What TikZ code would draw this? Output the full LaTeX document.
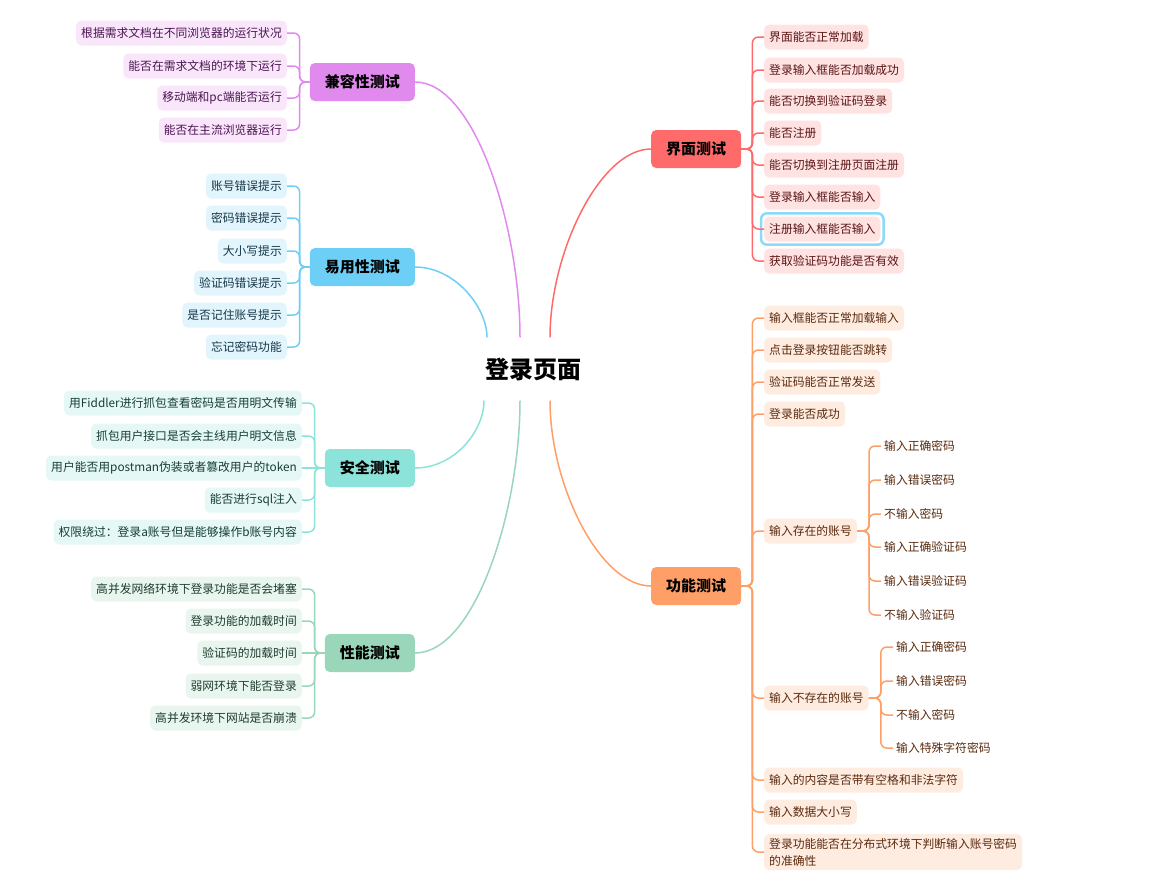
\documentclass[tikz,border=0pt]{standalone}
\usepackage{fontspec}
\setmainfont{Noto Sans CJK SC}
\definecolor{jrM}{HTML}{E18AEE}
\definecolor{jrL}{HTML}{FAE6FB}
\definecolor{jrT}{HTML}{4B1452}
\definecolor{yyM}{HTML}{6ECFF6}
\definecolor{yyL}{HTML}{E2F5FD}
\definecolor{yyT}{HTML}{153747}
\definecolor{aqM}{HTML}{8BE3D9}
\definecolor{aqL}{HTML}{E5F8F5}
\definecolor{aqT}{HTML}{163D38}
\definecolor{xnM}{HTML}{99D6BA}
\definecolor{xnL}{HTML}{E9F6EF}
\definecolor{xnT}{HTML}{1E3D2E}
\definecolor{jmM}{HTML}{FF6B6B}
\definecolor{jmL}{HTML}{FFE3E3}
\definecolor{jmT}{HTML}{5A1414}
\definecolor{gnM}{HTML}{FF9F68}
\definecolor{gnL}{HTML}{FFECE1}
\definecolor{gnT}{HTML}{5A2A0E}
\definecolor{hilite}{HTML}{8ED8FA}
\tikzset{
  leaf/.style={rounded corners=5pt,minimum height=25pt,inner xsep=5pt,inner ysep=2pt,
    font=\fontsize{11.8}{17}\selectfont},
  topic/.style={rounded corners=5pt,minimum height=38pt,inner xsep=15pt,
    font=\fontsize{15}{18}\selectfont\bfseries},
  sub/.style={inner sep=3pt,font=\fontsize{11.8}{14}\selectfont,text=gnT},
  link/.style={line width=1.5pt,rounded corners=6pt},
  jrleaf/.style={leaf,fill=jrL,text=jrT,anchor=east},
  yyleaf/.style={leaf,fill=yyL,text=yyT,anchor=east},
  aqleaf/.style={leaf,fill=aqL,text=aqT,anchor=east},
  xnleaf/.style={leaf,fill=xnL,text=xnT,anchor=east},
  jmleaf/.style={leaf,fill=jmL,text=jmT,anchor=west},
  gnleaf/.style={leaf,fill=gnL,text=gnT,anchor=west}
}
\begin{document}
\begin{tikzpicture}[x=1pt,y=-1pt]
      \useasboundingbox (0,0) rectangle (1150,886);
      \node[inner xsep=0pt,inner ysep=20pt,font=\fontsize{24}{28}\selectfont\bfseries] (root) at (533,369) {登录页面};

      \node[topic,fill=jrM,anchor=east] (jr) at (415,82) {兼容性测试};
      \node[topic,fill=yyM,anchor=east] (yy) at (415,267) {易用性测试};
      \node[topic,fill=aqM,anchor=east] (aq) at (415,468) {安全测试};
      \node[topic,fill=xnM,anchor=east] (xn) at (415,653) {性能测试};
      \node[topic,fill=jmM,anchor=west] (jm) at (651,149) {界面测试};
      \node[topic,fill=gnM,anchor=west] (gn) at (651,586) {功能测试};

      \draw[link,jrM] ([xshift=-13pt]root.north) .. controls +(0,-110) and +(60,0) .. (jr.east);
      \draw[link,yyM] ([xshift=-46pt]root.north) .. controls +(0,-30) and +(40,0) .. (yy.east);
      \draw[link,aqM] ([xshift=-49pt]root.south) .. controls +(0,30) and +(40,0) .. (aq.east);
      \draw[link,xnM] ([xshift=-13pt]root.south) .. controls +(0,110) and +(60,0) .. (xn.east);
      \draw[link,jmM] ([xshift=17pt]root.north) .. controls +(0,-85) and +(-51,0) .. (jm.west);
      \draw[link,gnM] ([xshift=17pt]root.south) .. controls +(0,85) and +(-51,0) .. (gn.west);

      \node[jrleaf] (jr1) at (287,33) {根据需求文档在不同浏览器的运行状况};
      \node[jrleaf] (jr2) at (287,66) {能否在需求文档的环境下运行};
      \node[jrleaf] (jr3) at (287,98) {移动端和pc端能否运行};
      \node[jrleaf] (jr4) at (287,130) {能否在主流浏览器运行};
      \draw[link,jrM] (jr.west) -- ++(-10,0) |- (jr1.east);
      \draw[link,jrM] (jr.west) -- ++(-10,0) |- (jr2.east);
      \draw[link,jrM] (jr.west) -- ++(-10,0) |- (jr3.east);
      \draw[link,jrM] (jr.west) -- ++(-10,0) |- (jr4.east);

      \node[yyleaf] (yy1) at (287,186) {账号错误提示};
      \node[yyleaf] (yy2) at (287,218) {密码错误提示};
      \node[yyleaf] (yy3) at (287,251) {大小写提示};
      \node[yyleaf] (yy4) at (287,283) {验证码错误提示};
      \node[yyleaf] (yy5) at (287,315) {是否记住账号提示};
      \node[yyleaf] (yy6) at (287,347) {忘记密码功能};
      \draw[link,yyM] (yy.west) -- ++(-10,0) |- (yy1.east);
      \draw[link,yyM] (yy.west) -- ++(-10,0) |- (yy2.east);
      \draw[link,yyM] (yy.west) -- ++(-10,0) |- (yy3.east);
      \draw[link,yyM] (yy.west) -- ++(-10,0) |- (yy4.east);
      \draw[link,yyM] (yy.west) -- ++(-10,0) |- (yy5.east);
      \draw[link,yyM] (yy.west) -- ++(-10,0) |- (yy6.east);

      \node[aqleaf] (aq1) at (302,403) {用Fiddler进行抓包查看密码是否用明文传输};
      \node[aqleaf] (aq2) at (302,436) {抓包用户接口是否会主线用户明文信息};
      \node[aqleaf] (aq3) at (302,468) {用户能否用postman伪装或者篡改用户的token};
      \node[aqleaf] (aq4) at (302,500) {能否进行sql注入};
      \node[aqleaf] (aq5) at (302,532) {权限绕过：登录a账号但是能够操作b账号内容};
      \draw[link,aqM] (aq.west) -- ++(-10,0) |- (aq1.east);
      \draw[link,aqM] (aq.west) -- ++(-10,0) |- (aq2.east);
      \draw[link,aqM] (aq.west) -- (aq3.east);
      \draw[link,aqM] (aq.west) -- ++(-10,0) |- (aq4.east);
      \draw[link,aqM] (aq.west) -- ++(-10,0) |- (aq5.east);

      \node[xnleaf] (xn1) at (302,589) {高并发网络环境下登录功能是否会堵塞};
      \node[xnleaf] (xn2) at (302,621) {登录功能的加载时间};
      \node[xnleaf] (xn3) at (302,653) {验证码的加载时间};
      \node[xnleaf] (xn4) at (302,686) {弱网环境下能否登录};
      \node[xnleaf] (xn5) at (302,718) {高并发环境下网站是否崩溃};
      \draw[link,xnM] (xn.west) -- ++(-10,0) |- (xn1.east);
      \draw[link,xnM] (xn.west) -- ++(-10,0) |- (xn2.east);
      \draw[link,xnM] (xn.west) -- (xn3.east);
      \draw[link,xnM] (xn.west) -- ++(-10,0) |- (xn4.east);
      \draw[link,xnM] (xn.west) -- ++(-10,0) |- (xn5.east);

      \node[jmleaf] (jm1) at (764,37) {界面能否正常加载};
      \node[jmleaf] (jm2) at (764,70) {登录输入框能否加载成功};
      \node[jmleaf] (jm3) at (764,101) {能否切换到验证码登录};
      \node[jmleaf] (jm4) at (764,133) {能否注册};
      \node[jmleaf] (jm5) at (764,165) {能否切换到注册页面注册};
      \node[jmleaf] (jm6) at (764,197) {登录输入框能否输入};
      \node[jmleaf] (jm7) at (764,229) {注册输入框能否输入};
      \node[jmleaf] (jm8) at (764,261) {获取验证码功能是否有效};
      \draw[hilite,line width=2.5pt,rounded corners=6pt] ([xshift=-3pt,yshift=-3pt]jm7.south west) rectangle ([xshift=3pt,yshift=3pt]jm7.north east);
      \draw[link,jmM] (jm.east) -- ++(11,0) |- (jm1.west);
      \draw[link,jmM] (jm.east) -- ++(11,0) |- (jm2.west);
      \draw[link,jmM] (jm.east) -- ++(11,0) |- (jm3.west);
      \draw[link,jmM] (jm.east) -- ++(11,0) |- (jm4.west);
      \draw[link,jmM] (jm.east) -- ++(11,0) |- (jm5.west);
      \draw[link,jmM] (jm.east) -- ++(11,0) |- (jm6.west);
      \draw[link,jmM] (jm.east) -- ++(11,0) |- (jm7.west);
      \draw[link,jmM] (jm.east) -- ++(11,0) |- (jm8.west);

      \node[gnleaf] (gn1) at (764,318) {输入框能否正常加载输入};
      \node[gnleaf] (gn2) at (764,350) {点击登录按钮能否跳转};
      \node[gnleaf] (gn3) at (764,382) {验证码能否正常发送};
      \node[gnleaf] (gn4) at (764,414) {登录能否成功};
      \node[gnleaf] (gn5) at (764,531) {输入存在的账号};
      \node[gnleaf] (gn6) at (764,698) {输入不存在的账号};
      \node[gnleaf] (gn7) at (764,780) {输入的内容是否带有空格和非法字符};
      \node[gnleaf] (gn8) at (764,812) {输入数据大小写};
      \node[gnleaf,align=left,inner ysep=4pt] (gn9) at (764,852) {登录功能能否在分布式环境下判断输入账号密码\\的准确性};
      \draw[link,gnM] (gn.east) -- ++(11,0) |- (gn1.west);
      \draw[link,gnM] (gn.east) -- ++(11,0) |- (gn2.west);
      \draw[link,gnM] (gn.east) -- ++(11,0) |- (gn3.west);
      \draw[link,gnM] (gn.east) -- ++(11,0) |- (gn4.west);
      \draw[link,gnM] (gn.east) -- ++(11,0) |- (gn5.west);
      \draw[link,gnM] (gn.east) -- ++(11,0) |- (gn6.west);
      \draw[link,gnM] (gn.east) -- ++(11,0) |- (gn7.west);
      \draw[link,gnM] (gn.east) -- ++(11,0) |- (gn8.west);
      \draw[link,gnM] (gn.east) -- ++(11,0) |- (gn9.west);

      \node[sub,anchor=west] (ya1) at (881,446) {输入正确密码};
      \node[sub,anchor=west] (ya2) at (881,480) {输入错误密码};
      \node[sub,anchor=west] (ya3) at (881,514) {不输入密码};
      \node[sub,anchor=west] (ya4) at (881,547) {输入正确验证码};
      \node[sub,anchor=west] (ya5) at (881,581) {输入错误验证码};
      \node[sub,anchor=west] (ya6) at (881,615) {不输入验证码};
      \draw[link,gnM] (gn5.east) -- ++(12,0) |- (ya1.west);
      \draw[link,gnM] (gn5.east) -- ++(12,0) |- (ya2.west);
      \draw[link,gnM] (gn5.east) -- ++(12,0) |- (ya3.west);
      \draw[link,gnM] (gn5.east) -- ++(12,0) |- (ya4.west);
      \draw[link,gnM] (gn5.east) -- ++(12,0) |- (ya5.west);
      \draw[link,gnM] (gn5.east) -- ++(12,0) |- (ya6.west);

      \node[sub,anchor=west] (na1) at (893,647) {输入正确密码};
      \node[sub,anchor=west] (na2) at (893,681) {输入错误密码};
      \node[sub,anchor=west] (na3) at (893,715) {不输入密码};
      \node[sub,anchor=west] (na4) at (893,748) {输入特殊字符密码};
      \draw[link,gnM] (gn6.east) -- ++(12,0) |- (na1.west);
      \draw[link,gnM] (gn6.east) -- ++(12,0) |- (na2.west);
      \draw[link,gnM] (gn6.east) -- ++(12,0) |- (na3.west);
      \draw[link,gnM] (gn6.east) -- ++(12,0) |- (na4.west);
    \end{tikzpicture}
\end{document}
